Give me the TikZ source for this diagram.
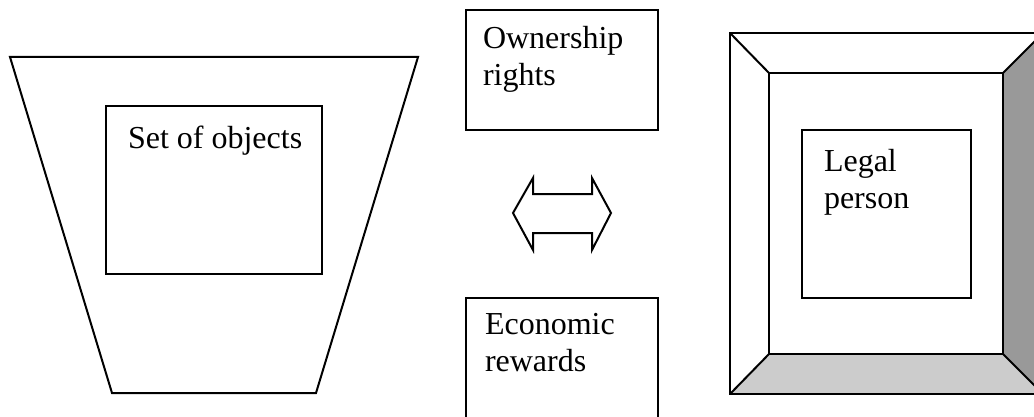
\documentclass[tikz,border=0pt]{standalone}
\usepackage{fontspec}
\setmainfont{Liberation Serif}
\definecolor{darkside}{HTML}{999999}
\definecolor{lightside}{HTML}{CCCCCC}
\begin{document}
\begin{tikzpicture}[x=0.75pt,y=-0.75pt,line width=1.5pt,line join=miter,
  box/.style={draw,inner sep=0pt,fill=white},
  lbl/.style={inner sep=0pt,align=left,anchor=north west,font=\fontsize{24}{27.75}\selectfont}]
\useasboundingbox (0,0) rectangle (1034,417);
% left trapezoid
\coordinate (tl) at (10,57);
\coordinate (tr) at (418,57);
\coordinate (br) at (316,393);
\coordinate (bl) at (112,393);
\draw (tl) -- (tr) -- (br) -- (bl) -- cycle;
\node[box,minimum width=162pt,minimum height=126pt] (objbox) at (214,190) {};
\node[lbl] (objtext) at (127,125) {Set of objects};
% middle boxes
\node[box,minimum width=144pt,minimum height=90pt] (ownbox) at (562,70) {};
\node[lbl] (owntext) at (482,25) {Ownership\\rights};
\node[box,minimum width=144pt,minimum height=90pt] (ecobox) at (562,358) {};
\node[lbl] (ecotext) at (484,312) {Economic\\rewards};
% double arrow
\coordinate (al) at (513,213);
\coordinate (ar) at (611,213);
\draw (al) -- (533,178) -- (533,194) -- (592,194) -- (592,178) -- (ar)
  -- (592,250) -- (592,233) -- (533,233) -- (533,250) -- cycle;
% frame
\coordinate (o1) at (730,33);
\coordinate (o2) at (1043,33);
\coordinate (o3) at (1043,394);
\coordinate (o4) at (730,394);
\coordinate (i1) at (769,73);
\coordinate (i2) at (1003,73);
\coordinate (i3) at (1003,354);
\coordinate (i4) at (769,354);
\fill[darkside] (i2) -- (o2) -- (o3) -- (i3) -- cycle;
\fill[lightside] (i4) -- (i3) -- (o3) -- (o4) -- cycle;
\draw (o1) -- (o2) -- (o3) -- (o4) -- cycle;
\draw (i1) -- (i2) -- (i3) -- (i4) -- cycle;
\draw (o1) -- (i1) (o2) -- (i2) (o3) -- (i3) (o4) -- (i4);
\node[box,minimum width=126.75pt,minimum height=126pt] (legalbox) at (886.5,214) {};
\node[lbl] (legaltext) at (823,148) {Legal\\person};
\end{tikzpicture}
\end{document}
